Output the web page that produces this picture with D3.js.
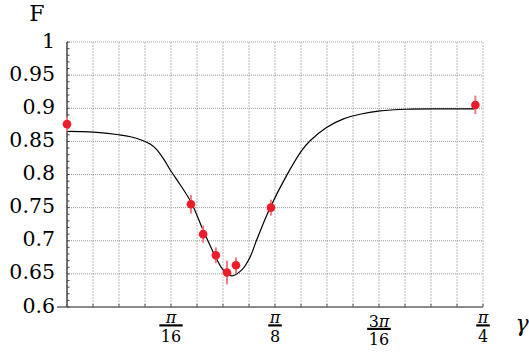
<!doctype html>
<html lang="en">
<head>
<meta charset="UTF-8" />
<title>F vs gamma</title>
<script src="https://d3js.org/d3.v7.min.js"></script>
<style>
  body { margin: 0; background: #fff; }
  text { font-family: "DejaVu Serif", serif; fill: #000; }
</style>
</head>
<body>
<div id="chart"></div>
<script>
var PI = Math.PI;

// measured points (gamma in rad, fidelity, error)
var pointGamma = [0, 0.234, 0.257, 0.281, 0.302, 0.319, 0.385, 0.771];
var pointF     = [0.876, 0.755, 0.710, 0.678, 0.652, 0.663, 0.750, 0.905];
var pointErr   = [0.011, 0.014, 0.013, 0.012, 0.018, 0.012, 0.012, 0.014];

// theory curve
var curveGamma = [0, 0.050, 0.098, 0.120, 0.144, 0.157, 0.169, 0.182, 0.194, 0.215, 0.235, 0.257, 0.279, 0.295, 0.311,
                  0.330, 0.346, 0.358, 0.383, 0.415, 0.443, 0.459, 0.490, 0.522, 0.553, 0.591,
                  0.641, 0.704, 0.770];
var curveF     = [0.865, 0.864, 0.860, 0.857, 0.851, 0.846, 0.838, 0.824, 0.808, 0.783, 0.757, 0.716, 0.678, 0.656, 0.647,
                  0.656, 0.676, 0.701, 0.749, 0.799, 0.836, 0.851, 0.871, 0.884, 0.891, 0.896,
                  0.8985, 0.899, 0.899];

var yTicks = [0.6, 0.65, 0.7, 0.75, 0.8, 0.85, 0.9, 0.95, 1];
var xTickVals = [PI / 16, PI / 8, 3 * PI / 16, PI / 4];
var xTickNum = ['', '', '3', ''];
var xTickDen = ['16', '8', '16', '4'];

var width = 529, height = 353;
var x0 = 67, x1 = 483, yTop = 42, yBot = 307;

var svg = d3.select('#chart').append('svg')
    .attr('width', width)
    .attr('height', height);

var xScale = d3.scaleLinear().domain([0, PI / 4]).range([x0, x1]);
var yScale = d3.scaleLinear().domain([0.6, 1]).range([yBot, yTop]);

// grid
var vGrid = d3.range(0, 17).map(function (i) { return i * PI / 64; });
svg.append('g').selectAll('line')
    .data(vGrid)
    .enter().append('line')
    .attr('x1', function (d) { return xScale(d); })
    .attr('x2', function (d) { return xScale(d); })
    .attr('y1', yTop)
    .attr('y2', yBot)
    .attr('stroke', '#bbb')
    .attr('stroke-width', 1)
    .attr('stroke-dasharray', '2,1');

svg.append('g').selectAll('line')
    .data(yTicks.slice(1))
    .enter().append('line')
    .attr('x1', x0)
    .attr('x2', x1)
    .attr('y1', function (d) { return yScale(d); })
    .attr('y2', function (d) { return yScale(d); })
    .attr('stroke', '#999')
    .attr('stroke-width', 1)
    .attr('stroke-dasharray', '1,1');

// axes lines
svg.append('line')
    .attr('x1', x0).attr('x2', x0)
    .attr('y1', yTop).attr('y2', yBot)
    .attr('stroke', '#555').attr('stroke-width', 1.6);
svg.append('line')
    .attr('x1', 57).attr('x2', x1)
    .attr('y1', yBot).attr('y2', yBot)
    .attr('stroke', '#666').attr('stroke-width', 1.6);

// minor ticks on left axis
svg.append('g').selectAll('line')
    .data(d3.range(0, 41).map(function (i) { return 0.6 + i * 0.01; }))
    .enter().append('line')
    .attr('x1', x0)
    .attr('x2', x0 + 2.5)
    .attr('y1', function (d) { return yScale(d); })
    .attr('y2', function (d) { return yScale(d); })
    .attr('stroke', '#444')
    .attr('stroke-width', 1);

// ticks on bottom axis
svg.append('g').selectAll('line')
    .data(vGrid)
    .enter().append('line')
    .attr('x1', function (d) { return xScale(d); })
    .attr('x2', function (d) { return xScale(d); })
    .attr('y1', yBot)
    .attr('y2', yBot - 3)
    .attr('stroke', '#555')
    .attr('stroke-width', 1);

// y tick labels
svg.append('g').selectAll('text')
    .data(yTicks)
    .enter().append('text')
    .attr('x', 55)
    .attr('y', function (d) { return yScale(d) + 5.5; })
    .attr('text-anchor', 'end')
    .attr('font-size', '20.5px')
    .text(function (d) { return d3.format('')(d); });

// x tick labels as fractions
var xl = svg.append('g').selectAll('g')
    .data(xTickVals)
    .enter().append('g')
    .attr('transform', function (d, i) {
        var shift = xTickNum[i].length > 0 ? 3.5 : 0;
        return 'translate(' + xScale(d) + ',' + shift + ')';
    });
xl.each(function (d, i) {
    var g = d3.select(this);
    var num = g.append('text')
        .attr('x', 0).attr('y', 323)
        .attr('text-anchor', 'middle')
        .attr('font-size', '16px');
    if (xTickNum[i]) num.append('tspan').text(xTickNum[i]);
    num.append('tspan').attr('font-style', 'italic').text('π');
    var den = g.append('text')
        .attr('x', 0).attr('y', 341.5)
        .attr('text-anchor', 'middle')
        .attr('font-size', '16px')
        .text(xTickDen[i]);
    var bw = Math.max(num.node().getComputedTextLength(), den.node().getComputedTextLength()) + 3;
    g.append('rect')
        .attr('x', -bw / 2).attr('y', 324.3)
        .attr('width', bw).attr('height', 2.2)
        .attr('fill', '#000');
});

// axis titles
svg.append('text')
    .attr('x', 37).attr('y', 21)
    .attr('text-anchor', 'middle')
    .attr('font-size', '22px')
    .text('F');
svg.append('text')
    .attr('x', 522).attr('y', 331)
    .attr('text-anchor', 'middle')
    .attr('font-size', '22px')
    .attr('font-style', 'italic')
    .text('γ');

// curve
var line = d3.line()
    .x(function (d, i) { return xScale(curveGamma[i]); })
    .y(function (d) { return yScale(d); })
    .curve(d3.curveCatmullRom.alpha(0.5));
svg.append('path')
    .datum(curveF)
    .attr('d', line)
    .attr('fill', 'none')
    .attr('stroke', '#000')
    .attr('stroke-width', 1.2);

// error bars
svg.append('g').selectAll('line')
    .data(pointF)
    .enter().append('line')
    .attr('x1', function (d, i) { return xScale(pointGamma[i]); })
    .attr('x2', function (d, i) { return xScale(pointGamma[i]); })
    .attr('y1', function (d, i) { return yScale(d - pointErr[i]); })
    .attr('y2', function (d, i) { return yScale(d + pointErr[i]); })
    .attr('stroke', '#f07a80')
    .attr('stroke-width', 2);

// points
svg.append('g').selectAll('circle')
    .data(pointF)
    .enter().append('circle')
    .attr('cx', function (d, i) { return xScale(pointGamma[i]); })
    .attr('cy', function (d) { return yScale(d); })
    .attr('r', 4.3)
    .attr('fill', '#ec1c2b');
</script>
</body>
</html>
